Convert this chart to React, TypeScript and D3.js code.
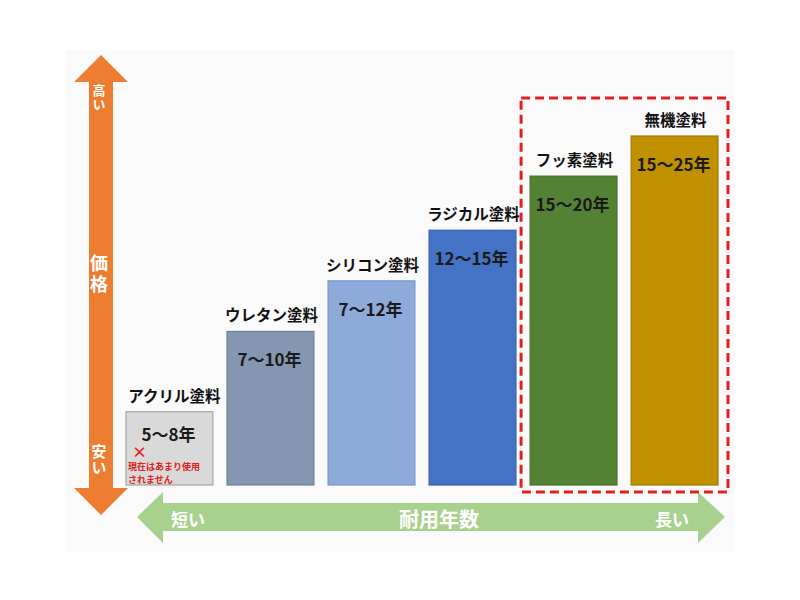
import React, { useEffect, useRef } from 'react';
import * as d3 from 'd3';

// paint types, durability labels and relative price level (bar height)
const paints = ['アクリル塗料', 'ウレタン塗料', 'シリコン塗料', 'ラジカル塗料', 'フッ素塗料', '無機塗料'];
const durability = ['5〜8年', '7〜10年', '7〜12年', '12〜15年', '15〜20年', '15〜25年'];
const priceLevel = [2.1, 4.4, 5.85, 7.3, 8.85, 10];
const barColors = ['#d9d9d9', '#8497b0', '#8eaadb', '#4472c4', '#548235', '#bf9000'];
const barStrokes = ['#a6a6a6', '#6f8098', '#7a96c8', '#3a62aa', '#46702c', '#a37b00'];
const recommended = ['フッ素塗料', '無機塗料'];
const acrylNote = ['現在はあまり使用', 'されません'];

const FONT = '"Noto Sans CJK JP", "Noto Sans", sans-serif';

const App: React.FC = () => {
  const svgRef = useRef<SVGSVGElement>(null);

  useEffect(() => {
    if (!svgRef.current) return;
    const svg = d3.select(svgRef.current);
    svg.selectAll('*').remove();

    const baseY = 485;

    const x = d3.scaleBand<string>().domain(paints).range([126, 718]).paddingInner(0.14).paddingOuter(0);
    const y = d3.scaleLinear().domain([0, 10]).range([baseY, 136]);

    // faint panel
    svg.append('rect').attr('x', 65).attr('y', 50).attr('width', 670).attr('height', 502).attr('fill', '#fafafa');

    // --- price arrow (vertical, orange) ---
    const ax = 101;
    const vArrow = [
      [ax, 55], [ax + 27, 82], [ax + 12, 82], [ax + 12, 488], [ax + 27, 488], [ax, 515],
      [ax - 27, 488], [ax - 12, 488], [ax - 12, 82], [ax - 27, 82]
    ] as [number, number][];
    svg.append('path').attr('d', d3.line()(vArrow) + 'Z').attr('fill', '#ed7d31');

    // vertical (tategaki) labels
    const vText = (t: string, y0: number, size: number, gap: number) => {
      svg.append('text')
        .attr('x', ax - 2).attr('y', y0)
        .style('writing-mode', 'vertical-rl')
        .style('text-orientation', 'upright')
        .attr('letter-spacing', gap)
        .attr('fill', '#fff').attr('font-family', FONT).attr('font-weight', 700)
        .attr('font-size', size).text(t);
    };
    vText('高い', 84, 13, 1);
    vText('価格', 254, 18, 3);
    vText('安い', 444, 15, 1);

    // --- durability arrow (horizontal, green) ---
    const ay = 517;
    const hArrow = [
      [137, ay], [163, ay - 25], [163, ay - 14], [698, ay - 14], [698, ay - 25], [725, ay],
      [698, ay + 26], [698, ay + 14], [163, ay + 14], [163, ay + 26]
    ] as [number, number][];
    svg.append('path').attr('d', d3.line()(hArrow) + 'Z').attr('fill', '#a9d18e');

    const hLabels: [string, number, number][] = [['短い', 188, 17], ['耐用年数', 439, 20], ['長い', 672, 17]];
    hLabels.forEach(([t, cx, size]) => {
      svg.append('text')
        .attr('x', cx).attr('y', ay + 1)
        .attr('text-anchor', 'middle').attr('dominant-baseline', 'central')
        .attr('fill', '#fff').attr('font-family', FONT).attr('font-weight', 700)
        .attr('font-size', size).text(t);
    });

    // --- bars ---
    const bars = svg.append('g');
    paints.forEach((p, i) => {
      const bx = x(p) as number;
      const top = y(priceLevel[i]);
      bars.append('rect')
        .attr('x', bx).attr('y', top)
        .attr('width', x.bandwidth()).attr('height', baseY - top)
        .attr('fill', barColors[i]).attr('stroke', barStrokes[i]).attr('stroke-width', 1.2);

      // name above bar
      bars.append('text')
        .attr('x', bx + x.bandwidth() / 2 + (i === 0 ? 5 : 1)).attr('y', top - 10)
        .attr('text-anchor', 'middle')
        .attr('fill', '#111').attr('font-family', FONT).attr('font-weight', 700)
        .attr('font-size', 15.5).text(p);

      // durability inside bar
      bars.append('text')
        .attr('x', bx + x.bandwidth() / 2 - 1).attr('y', top + (i === 0 ? 29 : 35))
        .attr('text-anchor', 'middle')
        .attr('fill', '#1a1a1a').attr('font-family', FONT).attr('font-weight', 700)
        .attr('font-size', 17).text(durability[i]);
    });

    // acrylic: no longer used note
    const a0 = x(paints[0]) as number;
    const aTop = y(priceLevel[0]);
    bars.append('text')
      .attr('x', a0 + 6).attr('y', aTop + 46)
      .attr('fill', '#e02020').attr('font-family', FONT).attr('font-weight', 700)
      .attr('font-size', 15).text('×');
    acrylNote.forEach((t, i) => {
      bars.append('text')
        .attr('x', a0 + 2).attr('y', aTop + 58 + i * 13)
        .attr('fill', '#e02020').attr('font-family', FONT).attr('font-weight', 700)
        .attr('font-size', 9).text(t);
    });

    // --- recommended highlight (dashed red box) ---
    const r0 = x(recommended[0]) as number;
    const r1 = (x(recommended[recommended.length - 1]) as number) + x.bandwidth();
    svg.append('rect')
      .attr('x', r0 - 9).attr('y', y(10) - 38)
      .attr('width', r1 - r0 + 19).attr('height', baseY - y(10) + 45)
      .attr('fill', 'none').attr('stroke', '#e02020').attr('stroke-width', 3)
      .attr('stroke-dasharray', '9,5');
  }, []);

  return (
    <div style={{ position: 'absolute', left: 0, top: 0, width: 800, height: 600, background: '#fff' }}>
      <svg ref={svgRef} width={800} height={600} viewBox="0 0 800 600" style={{ display: 'block' }} />
    </div>
  );
};

export default App;
